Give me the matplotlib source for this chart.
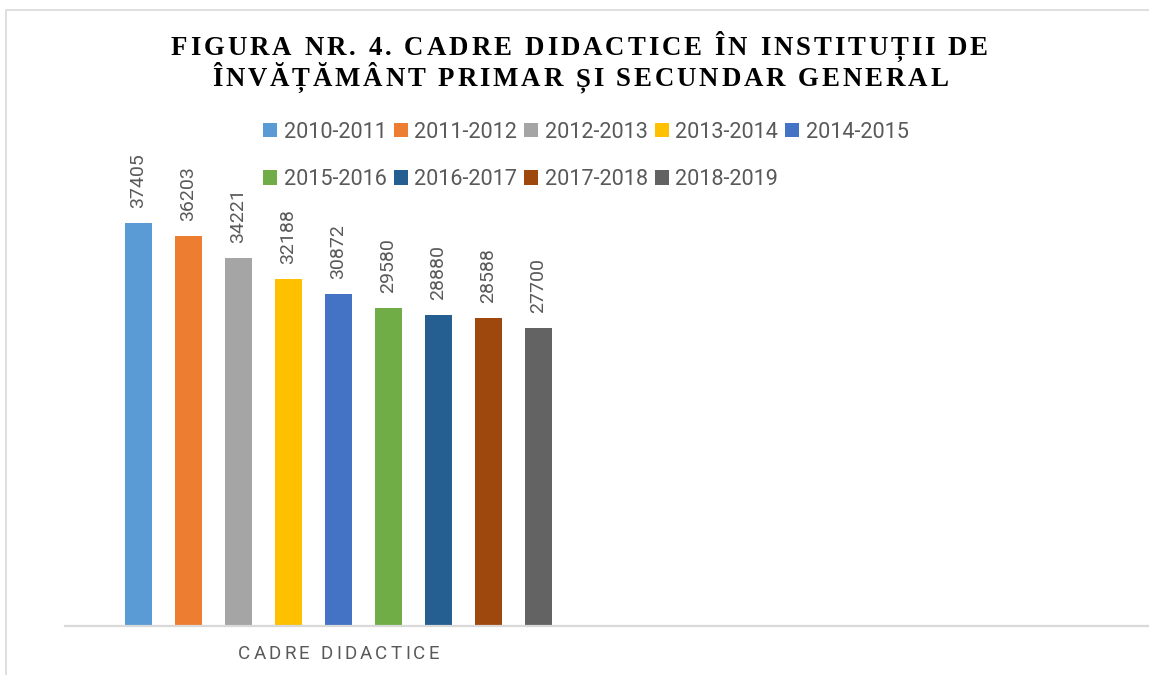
import matplotlib
matplotlib.use("Agg")
import matplotlib.pyplot as plt
from matplotlib.patches import Rectangle
import numpy as np

# ---- data ----
category = "CADRE DIDACTICE"
years = ["2010-2011", "2011-2012", "2012-2013", "2013-2014", "2014-2015",
         "2015-2016", "2016-2017", "2017-2018", "2018-2019"]
values = [37405, 36203, 34221, 32188, 30872, 29580, 28880, 28588, 27700]
colors = ["#5B9BD5", "#ED7D31", "#A5A5A5", "#FFC000", "#4472C4",
          "#70AD47", "#255E91", "#9E480E", "#636363"]
title_lines = ["FIGURA NR. 4. CADRE DIDACTICE ÎN INSTITUȚII DE",
               "ÎNVĂȚĂMÂNT PRIMAR ȘI SECUNDAR GENERAL"]

W, H = 1149, 675
DPI = 100
TXT = "#595959"
fig = plt.figure(figsize=(W / DPI, H / DPI), dpi=DPI)
fig.patch.set_facecolor("white")


def spaced_text(s, x_left, x_right, baseline_px, **kw):
    """Draw string s with uniform letter spacing so its ink spans x_left..x_right (pixels)."""
    r = fig.canvas.get_renderer()
    widths = []
    fs_px = kw.get("fontsize", 12) * DPI / 72.0
    for ch in s:
        if ch == " ":
            widths.append(None)
        else:
            t = fig.text(0, 0, ch, **kw)
            widths.append(t.get_window_extent(r).width)
            t.remove()
    space_w = 0.25 * fs_px
    natural = sum(w if w is not None else space_w for w in widths)
    gap = (x_right - x_left - natural) / (len(s) - 1)
    x = x_left
    y = 1 - baseline_px / H
    for ch, w in zip(s, widths):
        if w is None:
            x += space_w + gap
            continue
        fig.text(x / W, y, ch, ha="left", va="baseline", **kw)
        x += w + gap


# outer chart frame
fig.add_artist(Rectangle((6 / W, -0.2), 2.0, 1.2 - 10 / H, transform=fig.transFigure,
                         fill=False, edgecolor="#D9D9D9", lw=1.2))

# title
tkw = dict(fontsize=19.4, fontweight="bold", family="Liberation Serif", color="black")
spaced_text(title_lines[0], 171, 988, 55, **tkw)
spaced_text(title_lines[1], 212, 948, 86, **tkw)

# axes
ax = fig.add_axes([65 / W, 49.5 / H, (W - 65) / W, 430 / H])
x = np.arange(len(values))
bars = ax.bar(x, values, width=0.54, color=colors, label=years, zorder=2)
ax.set_ylim(0, 40000)
ax.set_xlim(-1.47, 20.21)
for s in ["top", "left", "right"]:
    ax.spines[s].set_visible(False)
ax.spines["bottom"].set_color("#D9D9D9")
ax.spines["bottom"].set_linewidth(1.6)
ax.spines["bottom"].set_zorder(3)
ax.set_xticks([])
ax.set_yticks([])
ax.patch.set_alpha(0)

for xi, v in zip(x, values):
    ax.annotate(str(v), (xi, v), xytext=(0, 15), textcoords="offset pixels",
                rotation=90, ha="center", va="bottom", fontsize=14.0,
                family="Roboto", color=TXT, annotation_clip=False)

# category label (letter-spaced), centered under the bar group
fig.canvas.draw()
cx = ax.transData.transform((np.mean(x), 0))[0]
spaced_text(category, cx - 100.5, cx + 100.5, 659.3, fontsize=13.5, family="Roboto", color=TXT)

# legend (row-major order in 5 columns)
handles = list(bars)
order = [0, 5, 1, 6, 2, 7, 3, 8, 4]
leg = fig.legend([handles[i] for i in order], [years[i] for i in order],
                 ncol=5, loc="center", bbox_to_anchor=(586 / W, 1 - 156 / H),
                 frameon=False, prop={"family": "Roboto", "size": 15.6},
                 handlelength=0.64, handleheight=0.64, handletextpad=0.3,
                 columnspacing=0.33, labelspacing=1.22, borderaxespad=0, borderpad=0)
for t in leg.get_texts():
    t.set_color(TXT)

fig.savefig("out.png", dpi=DPI, facecolor="white")
